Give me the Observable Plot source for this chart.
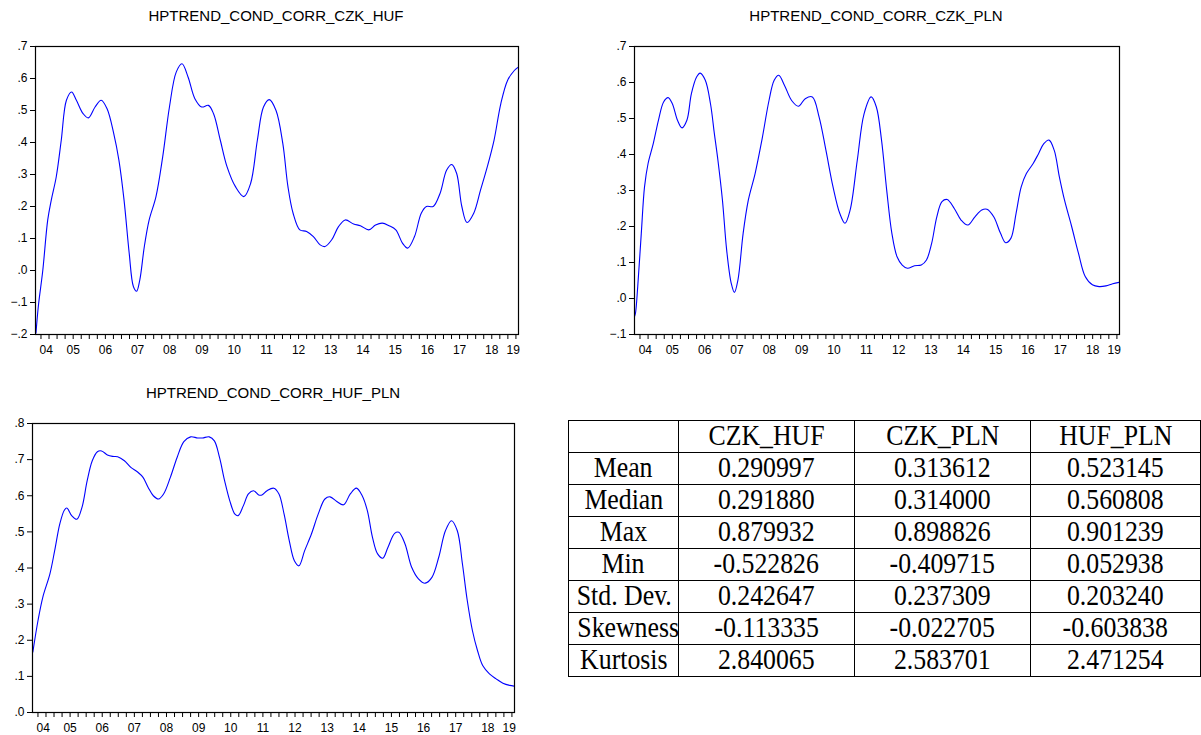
<!DOCTYPE html>
<html>
<head>
<meta charset="utf-8">
<script src="https://cdn.jsdelivr.net/npm/d3@7"></script>
<script src="https://cdn.jsdelivr.net/npm/@observablehq/plot@0.6"></script>
<style>
  html, body { margin: 0; padding: 0; background: #fff; width: 1201px; height: 735px; overflow: hidden; }
  .abs { position: absolute; }
  .title { font-family: "Liberation Sans", Arial, sans-serif; font-size: 15px; color: #000; text-align: center; white-space: nowrap; }
  table.stats { border-collapse: collapse; font-family: "Liberation Serif", "Times New Roman", serif; font-size: 30px; color: #000; table-layout: fixed; }
  table.stats td { border: 1px solid #000; padding: 0; height: 31px; text-align: center; vertical-align: middle; line-height: 31px; overflow: visible; white-space: nowrap; }
  table.stats td span { display: inline-block; transform: translateY(-2px) scaleX(0.86); transform-origin: center; }
</style>
</head>
<body>
<div id="root"></div>
<script>
// ---------- Data ----------
const yearLabels = ["04","05","06","07","08","09","10","11","12","13","14","15","16","17","18","19"];
const timeDomain = [2004.33, 2019.33];

const czkHufT = [2004.345,2004.42,2004.556,2004.71,2004.82,2004.975,2005.13,2005.29,2005.45,2005.6,2005.81,2005.97,2006.18,2006.37,2006.55,2006.76,2006.92,2007.08,2007.24,2007.37,2007.47,2007.57,2007.71,2007.86,2008.07,2008.28,2008.49,2008.7,2008.88,2009.07,2009.28,2009.49,2009.7,2009.86,2010.07,2010.28,2010.54,2010.8,2011.01,2011.22,2011.41,2011.59,2011.8,2012.01,2012.17,2012.33,2012.54,2012.75,2012.96,2013.17,2013.32,2013.53,2013.74,2013.95,2014.21,2014.42,2014.68,2014.89,2015.1,2015.31,2015.52,2015.73,2015.89,2016.1,2016.31,2016.47,2016.68,2016.89,2017.1,2017.26,2017.41,2017.57,2017.73,2017.94,2018.15,2018.36,2018.57,2018.78,2018.99,2019.2,2019.33];
const czkHufV = [-0.195,-0.11,0.0,0.158,0.22,0.293,0.407,0.532,0.558,0.532,0.49,0.477,0.511,0.532,0.506,0.428,0.345,0.22,0.054,-0.05,-0.065,-0.029,0.075,0.158,0.23,0.355,0.511,0.62,0.646,0.604,0.537,0.511,0.516,0.49,0.407,0.324,0.262,0.231,0.272,0.407,0.511,0.534,0.5,0.397,0.262,0.179,0.127,0.122,0.106,0.08,0.075,0.096,0.137,0.158,0.145,0.14,0.127,0.142,0.148,0.14,0.127,0.085,0.07,0.106,0.179,0.2,0.2,0.24,0.314,0.331,0.303,0.2,0.15,0.179,0.251,0.324,0.407,0.521,0.594,0.625,0.636];

const czkPlnT = [2004.33,2004.36,2004.43,2004.54,2004.64,2004.75,2004.91,2005.07,2005.23,2005.37,2005.5,2005.66,2005.8,2005.95,2006.09,2006.25,2006.36,2006.52,2006.68,2006.8,2006.91,2007.05,2007.18,2007.32,2007.42,2007.53,2007.69,2007.85,2008.06,2008.27,2008.49,2008.65,2008.79,2008.97,2009.19,2009.4,2009.61,2009.83,2010.04,2010.25,2010.47,2010.68,2010.84,2011.0,2011.22,2011.43,2011.65,2011.81,2011.97,2012.13,2012.29,2012.45,2012.61,2012.77,2012.99,2013.2,2013.36,2013.52,2013.68,2013.84,2014.0,2014.22,2014.43,2014.64,2014.86,2015.07,2015.23,2015.44,2015.65,2015.81,2015.97,2016.13,2016.29,2016.45,2016.66,2016.83,2016.99,2017.15,2017.31,2017.47,2017.63,2017.85,2018.06,2018.27,2018.49,2018.7,2018.91,2019.12,2019.33];
const czkPlnV = [-0.05,-0.041,0.033,0.181,0.31,0.375,0.43,0.495,0.546,0.558,0.541,0.495,0.474,0.495,0.569,0.615,0.626,0.606,0.541,0.458,0.384,0.273,0.135,0.043,0.017,0.052,0.181,0.273,0.347,0.44,0.55,0.606,0.62,0.592,0.55,0.534,0.555,0.56,0.504,0.412,0.31,0.236,0.209,0.246,0.384,0.513,0.56,0.532,0.44,0.301,0.181,0.116,0.093,0.084,0.091,0.093,0.107,0.153,0.227,0.269,0.275,0.25,0.218,0.204,0.227,0.246,0.248,0.227,0.181,0.155,0.167,0.236,0.31,0.347,0.375,0.403,0.43,0.44,0.412,0.338,0.273,0.2,0.126,0.061,0.038,0.033,0.035,0.041,0.045];

const hufPlnT = [2004.34,2004.5,2004.65,2004.87,2005.02,2005.18,2005.32,2005.4,2005.55,2005.71,2005.87,2006.03,2006.19,2006.35,2006.48,2006.66,2006.82,2006.98,2007.19,2007.4,2007.61,2007.77,2007.93,2008.09,2008.25,2008.41,2008.62,2008.83,2009.04,2009.25,2009.47,2009.62,2009.83,2009.99,2010.15,2010.31,2010.47,2010.63,2010.73,2010.89,2011.05,2011.21,2011.37,2011.47,2011.63,2011.84,2012.0,2012.16,2012.32,2012.48,2012.62,2012.8,2013.01,2013.22,2013.43,2013.59,2013.8,2014.01,2014.22,2014.41,2014.59,2014.75,2014.91,2015.07,2015.23,2015.39,2015.6,2015.73,2015.92,2016.13,2016.34,2016.55,2016.76,2016.97,2017.18,2017.37,2017.55,2017.71,2017.86,2018.02,2018.18,2018.34,2018.55,2018.76,2018.97,2019.18,2019.33];
const hufPlnV = [0.167,0.254,0.319,0.383,0.448,0.522,0.56,0.566,0.545,0.535,0.568,0.641,0.697,0.722,0.724,0.713,0.709,0.708,0.697,0.678,0.665,0.651,0.623,0.6,0.591,0.605,0.651,0.706,0.75,0.763,0.76,0.76,0.763,0.752,0.706,0.641,0.586,0.549,0.545,0.572,0.605,0.614,0.602,0.602,0.614,0.621,0.605,0.549,0.476,0.42,0.406,0.448,0.494,0.549,0.591,0.597,0.584,0.575,0.605,0.621,0.6,0.559,0.485,0.439,0.427,0.457,0.496,0.499,0.467,0.402,0.37,0.358,0.374,0.429,0.503,0.531,0.503,0.411,0.31,0.227,0.171,0.13,0.107,0.093,0.081,0.075,0.073];

const tableColumns = ["", "CZK_HUF", "CZK_PLN", "HUF_PLN"];
const statNames = ["Mean","Median","Max","Min","Std. Dev.","Skewness","Kurtosis"];
const statCzkHuf = ["0.290997","0.291880","0.879932","-0.522826","0.242647","-0.113335","2.840065"];
const statCzkPln = ["0.313612","0.314000","0.898826","-0.409715","0.237309","-0.022705","2.583701"];
const statHufPln = ["0.523145","0.560808","0.901239","0.052938","0.203240","-0.603838","2.471254"];

// ---------- Helpers ----------
const root = document.getElementById("root");
const yearNums = yearLabels.map(s => 2000 + (+s));
const labelPos = yearNums.map(y => (Math.max(y, timeDomain[0]) + Math.min(y + 1, timeDomain[1])) / 2);
const labelMap = new Map(labelPos.map((p, i) => [p, yearLabels[i]]));
const quarterTicks = [];
for (let q = Math.ceil(timeDomain[0] * 4); q / 4 <= timeDomain[1]; q++) quarterTicks.push(q / 4);
const yFmt = d => d3.format(".1f")(d).replace("0.", ".");

function place(el, left, top) {
  el.classList.add("abs");
  el.style.left = left + "px";
  el.style.top = top + "px";
  root.appendChild(el);
}

function makeTitle(text, cx, cy) {
  const d = document.createElement("div");
  d.className = "title abs";
  d.textContent = text;
  d.style.left = (cx - 200) + "px";
  d.style.width = "400px";
  d.style.top = (cy - 9) + "px";
  root.appendChild(d);
}

function chart(T, V, yDomain, opts) {
  const data = T.map((t, i) => ({t, v: V[i]}));
  const yTicks = d3.range(Math.round(yDomain[0] * 10), Math.round(yDomain[1] * 10) + 1).map(k => k / 10);
  return Plot.plot({
    width: opts.width,
    height: opts.height,
    marginLeft: opts.ml,
    marginRight: opts.mr,
    marginTop: opts.mt,
    marginBottom: opts.mb,
    style: {fontFamily: "'Liberation Sans', Arial, sans-serif", fontSize: "12px", color: "#000", background: "#fff"},
    x: {domain: timeDomain},
    y: {domain: yDomain},
    marks: [
      Plot.axisY({ticks: yTicks, tickFormat: yFmt, tickSize: 5, tickPadding: 3, label: null, stroke: "#000"}),
      Plot.axisX({ticks: quarterTicks, tickFormat: () => "", tickSize: 5, label: null, stroke: "#000"}),
      Plot.axisX({ticks: labelPos, tickFormat: d => labelMap.get(d), tickSize: 0, tickPadding: 11, label: null}),
      Plot.line(data, {x: "t", y: "v", stroke: "#0000ff", strokeWidth: 1.1, curve: "catmull-rom", clip: true}),
      Plot.frame({stroke: "#000", strokeWidth: 1.2})
    ]
  });
}

// ---------- Charts ----------
makeTitle("HPTREND_COND_CORR_CZK_HUF", 276, 16);
place(chart(czkHufT, czkHufV, [-0.2, 0.7], {width: 530, height: 335, ml: 35, mr: 12, mt: 16, mb: 31}), 0, 30);

makeTitle("HPTREND_COND_CORR_CZK_PLN", 876, 16);
place(chart(czkPlnT, czkPlnV, [-0.1, 0.7], {width: 530, height: 335, ml: 34, mr: 11, mt: 16, mb: 31}), 600, 30);

makeTitle("HPTREND_COND_CORR_HUF_PLN", 273, 393);
place(chart(hufPlnT, hufPlnV, [0, 0.8], {width: 530, height: 328, ml: 32, mr: 16, mt: 16, mb: 23}), 0, 407);

// ---------- Table ----------
const table = document.createElement("table");
table.className = "stats";
const colWidths = [110, 176, 176, 170];
const cg = document.createElement("colgroup");
colWidths.forEach(w => { const c = document.createElement("col"); c.style.width = w + "px"; cg.appendChild(c); });
table.appendChild(cg);
function addRow(cells) {
  const tr = document.createElement("tr");
  cells.forEach(txt => {
    const td = document.createElement("td");
    const sp = document.createElement("span");
    sp.textContent = txt;
    td.appendChild(sp);
    tr.appendChild(td);
  });
  table.appendChild(tr);
}
addRow(tableColumns);
statNames.forEach((n, i) => addRow([n, statCzkHuf[i], statCzkPln[i], statHufPln[i]]));
table.style.width = colWidths.reduce((a, b) => a + b, 0) + "px";
place(table, 568, 420);
</script>
</body>
</html>
